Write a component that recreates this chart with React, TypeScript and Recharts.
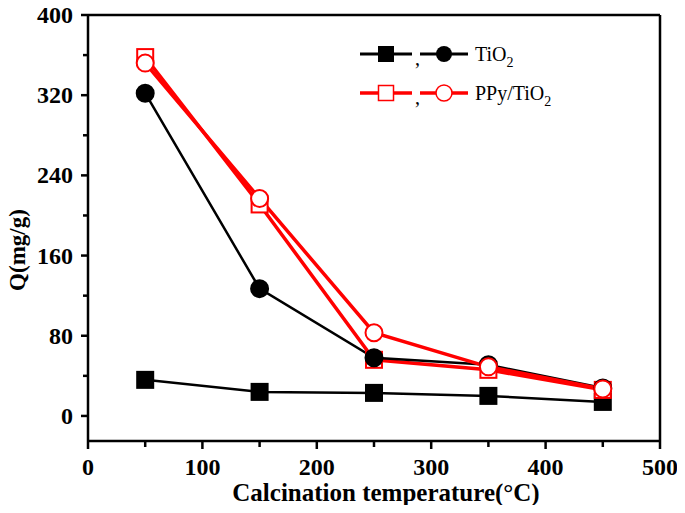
import React from 'react';
import { LineChart, Line, XAxis, YAxis, ReferenceLine } from 'recharts';

const temps = [50, 150, 250, 350, 450];
const tio2Square = [36, 24, 23, 20, 14];
const tio2Circle = [322, 127, 58, 51, 28];
const ppySquare = [358, 211, 56, 46, 26];
const ppyCircle = [352, 217, 83, 49, 27];
const xTicks = [0, 50, 100, 150, 200, 250, 300, 350, 400, 450, 500];
const yTicks = [0, 40, 80, 120, 160, 200, 240, 280, 320, 360, 400];

const data = temps.map((t, i) => ({
  temp: t,
  tio2Square: tio2Square[i],
  tio2Circle: tio2Circle[i],
  ppySquare: ppySquare[i],
  ppyCircle: ppyCircle[i],
}));

const FONT = '"Liberation Serif", "Times New Roman", serif';

const XTick = (props: any) => {
  const { x, y, payload } = props;
  const major = payload.value % 100 === 0;
  return (
    <g>
      <line x1={x} y1={y} x2={x} y2={y + (major ? 8 : 6)} stroke="#000" strokeWidth={2.5} />
      {major && (
        <text x={x} y={y + 34} textAnchor="middle" fontFamily={FONT} fontWeight="bold" fontSize={24} fill="#000">
          {payload.value}
        </text>
      )}
    </g>
  );
};

const YTick = (props: any) => {
  const { x, y, payload } = props;
  const major = payload.value % 80 === 0;
  return (
    <g>
      <line x1={x} y1={y} x2={x - (major ? 7 : 5)} y2={y} stroke="#000" strokeWidth={2.5} />
      {major && (
        <text x={x - 15} y={y + 8} textAnchor="end" fontFamily={FONT} fontWeight="bold" fontSize={24} fill="#000">
          {payload.value}
        </text>
      )}
    </g>
  );
};

const SquareDot = (fill: string, stroke: string) => (props: any) => {
  const { cx, cy, index } = props;
  if (cx == null || cy == null) return null;
  const s = 16;
  return <rect key={`s${index}`} x={cx - s / 2} y={cy - s / 2} width={s} height={s} fill={fill} stroke={stroke} strokeWidth={2} />;
};

const CircleDot = (fill: string, stroke: string) => (props: any) => {
  const { cx, cy, index } = props;
  if (cx == null || cy == null) return null;
  return <circle key={`c${index}`} cx={cx} cy={cy} r={8.5} fill={fill} stroke={stroke} strokeWidth={2} />;
};

const LegendOverlay = () => (
  <svg width={240} height={80} style={{ position: 'absolute', left: 358, top: 38, overflow: 'visible' }}>
    <g>
      <line x1={2} y1={16} x2={54} y2={16} stroke="#000" strokeWidth={3} />
      <rect x={20} y={8} width={16} height={16} fill="#000" />
      <text x={57} y={27} fontFamily={FONT} fontSize={20} fill="#000">,</text>
      <line x1={62} y1={16} x2={110} y2={16} stroke="#000" strokeWidth={3} />
      <circle cx={86} cy={16} r={8} fill="#000" />
      <text x={117} y={23} fontFamily={FONT} fontSize={20} fill="#000">
        TiO<tspan fontSize={14} dy={6}>2</tspan>
      </text>
    </g>
    <g transform="translate(0,39)">
      <line x1={2} y1={16} x2={54} y2={16} stroke="#f00" strokeWidth={3.5} />
      <rect x={20.5} y={8.5} width={15} height={15} fill="#fff" stroke="#f00" strokeWidth={1.5} />
      <text x={57} y={27} fontFamily={FONT} fontSize={20} fill="#000">,</text>
      <line x1={62} y1={16} x2={110} y2={16} stroke="#f00" strokeWidth={3.5} />
      <circle cx={86} cy={16} r={8} fill="#fff" stroke="#f00" strokeWidth={1.5} />
      <text x={117} y={23} fontFamily={FONT} fontSize={20} fill="#000">
        PPy/TiO<tspan fontSize={14} dy={6}>2</tspan>
      </text>
    </g>
  </svg>
);

export default function App() {
  return (
    <div style={{ position: 'relative', width: 685, height: 513, margin: -8, background: '#fff' }}>
      <LineChart width={685} height={513} data={data} margin={{ top: 15, right: 25, bottom: 0, left: 0 }}>
        <XAxis
          type="number"
          dataKey="temp"
          domain={[0, 500]}
          ticks={xTicks}
          interval={0}
          tickSize={0}
          tickMargin={0}
          tick={<XTick />}
          axisLine={{ stroke: '#000', strokeWidth: 2.5 }}
          height={72}
          label={{
            content: () => (
              <text x={386} y={501} textAnchor="middle" fontFamily={FONT} fontWeight="bold" fontSize={25} fill="#000">
                Calcination temperature(°C)
              </text>
            ),
          }}
        />
        <YAxis
          type="number"
          domain={[-25, 400]}
          ticks={yTicks}
          interval={0}
          width={88}
          tickSize={0}
          tickMargin={0}
          tick={<YTick />}
          axisLine={{ stroke: '#000', strokeWidth: 2.5 }}
          allowDataOverflow
          label={{
            content: () => (
              <text x={25} y={250} transform="rotate(-90 25 250)" textAnchor="middle" fontFamily={FONT} fontWeight="bold" fontSize={23} fill="#000">
                Q(mg/g)
              </text>
            ),
          }}
        />
        <ReferenceLine y={400} stroke="#000" strokeWidth={2.5} />
        <ReferenceLine x={500} stroke="#000" strokeWidth={2.5} />
        <Line dataKey="tio2Square" stroke="#000" strokeWidth={2.5} dot={SquareDot('#000', '#000')} isAnimationActive={false} legendType="none" />
        <Line dataKey="ppySquare" stroke="#f00" strokeWidth={3.5} dot={SquareDot('#fff', '#f00')} isAnimationActive={false} legendType="none" />
        <Line dataKey="tio2Circle" stroke="#000" strokeWidth={2.5} dot={CircleDot('#000', '#000')} isAnimationActive={false} legendType="none" />
        <Line dataKey="ppyCircle" stroke="#f00" strokeWidth={3.5} dot={CircleDot('#fff', '#f00')} isAnimationActive={false} legendType="none" />
      </LineChart>
      <LegendOverlay />
    </div>
  );
}
